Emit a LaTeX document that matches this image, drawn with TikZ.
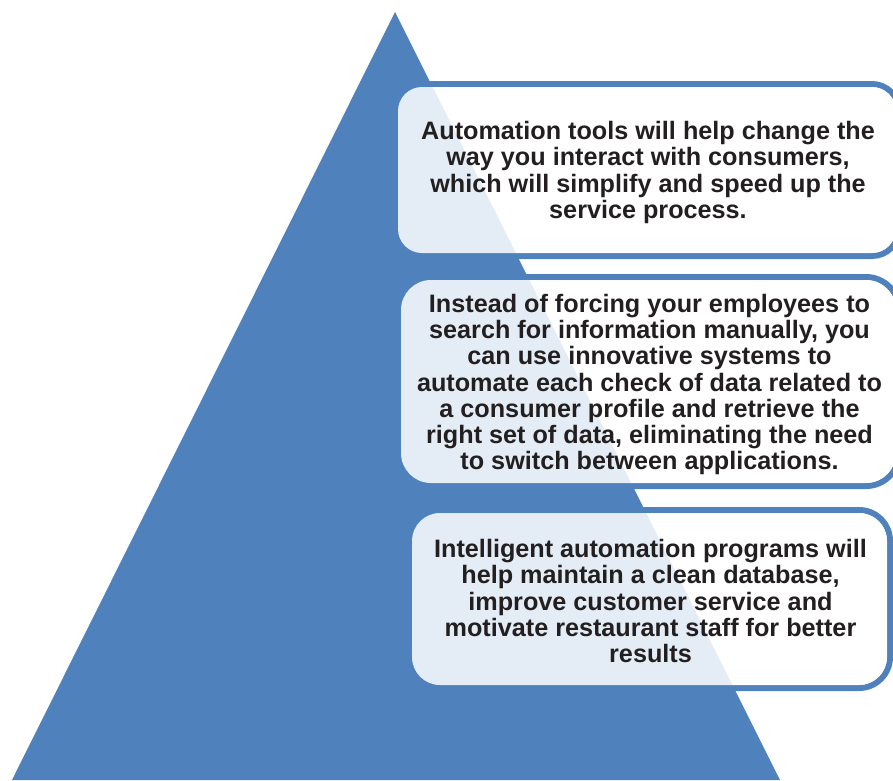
\documentclass[tikz,border=0pt]{standalone}
\usepackage{fontspec}
\setmainfont{Liberation Sans}
\definecolor{pyrblue}{HTML}{4F81BD}
\definecolor{inktext}{HTML}{231F20}
\begin{document}
\begin{tikzpicture}[x=1pt,y=-1pt,
  boxfill/.style={fill=white, fill opacity=0.85},
  boxedge/.style={draw=pyrblue, line width=6pt},
  boxtext/.style={text=inktext, font=\fontsize{25.2}{26.3}\selectfont\bfseries,
                  align=center, inner sep=0pt}]
\useasboundingbox (0,0) rectangle (893,780);
\clip (0,0) rectangle (893,780);

% pyramid
\coordinate (apex) at (395,12);
\coordinate (baseR) at (780,780);
\coordinate (baseL) at (12,780);
\fill[pyrblue] (apex) -- (baseR) -- (baseL) -- cycle;

% top box
\draw[boxedge, rounded corners=27pt] (395,84) rectangle (899,256);
\fill[boxfill, rounded corners=24pt] (398,87) rectangle (896,253);
\node[boxtext] (tip1) at (648,172.5) {Automation tools will help change the\\way you interact with consumers,\\which will simplify and speed up the\\service process.};

% middle box
\draw[boxedge, rounded corners=33pt] (398,277) rectangle (899,486);
\fill[boxfill, rounded corners=30pt] (401,280) rectangle (896,483);
\node[boxtext] (tip2) at (649.5,384.5) {Instead of forcing your employees to\\search for information manually, you\\can use innovative systems to\\automate each check of data related to\\a consumer profile and retrieve the\\right set of data, eliminating the need\\to switch between applications.};

% bottom box
\draw[boxedge, rounded corners=31pt] (409,510) rectangle (890,688);
\fill[boxfill, rounded corners=28pt] (412,513) rectangle (887,685);
\node[boxtext] (tip3) at (650.5,601) {Intelligent automation programs will\\help maintain a clean database,\\improve customer service and\\motivate restaurant staff for better\\results};
\end{tikzpicture}
\end{document}
